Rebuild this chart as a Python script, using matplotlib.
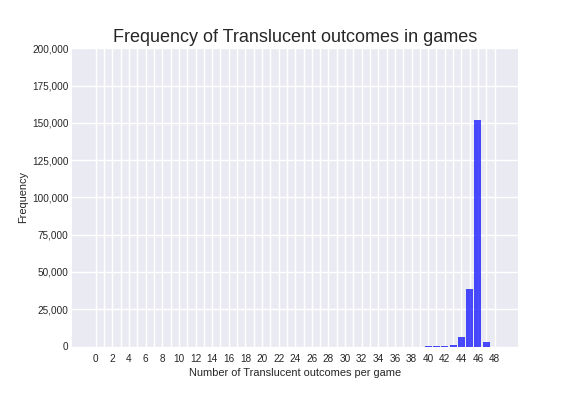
import matplotlib
matplotlib.use("Agg")
import matplotlib.pyplot as plt
from matplotlib.ticker import FuncFormatter

plt.style.use("seaborn-v0_8-darkgrid")
plt.rcParams["font.family"] = ["Liberation Sans", "DejaVu Sans"]
plt.rcParams["grid.linewidth"] = 1.4

# Number of Translucent outcomes per game (0..48) and how often each occurred
outcomes = list(range(49))
counts = [0] * 40 + [500, 500, 500, 1100, 6500, 38700, 151700, 3300, 0]

fig, ax = plt.subplots(figsize=(8, 5.5), dpi=72)
fig.subplots_adjust(left=0.125, right=0.9, top=0.878, bottom=0.125)

ax.bar(outcomes, counts, width=0.85, color="blue", alpha=0.7)

ax.set_xticks(outcomes)
ax.set_xticklabels([str(v) if v % 2 == 0 else "" for v in outcomes])
ax.tick_params(axis="x", pad=8)
ax.set_ylim(0, 200000)
ax.yaxis.set_major_formatter(FuncFormatter(lambda v, p: "{:,.0f}".format(v)))

ax.set_title("Frequency of Translucent outcomes in games", fontsize=18)
ax.set_xlabel("Number of Translucent outcomes per game", fontsize=11)
ax.set_ylabel("Frequency", fontsize=11)

fig.savefig("out.png", dpi=72)
